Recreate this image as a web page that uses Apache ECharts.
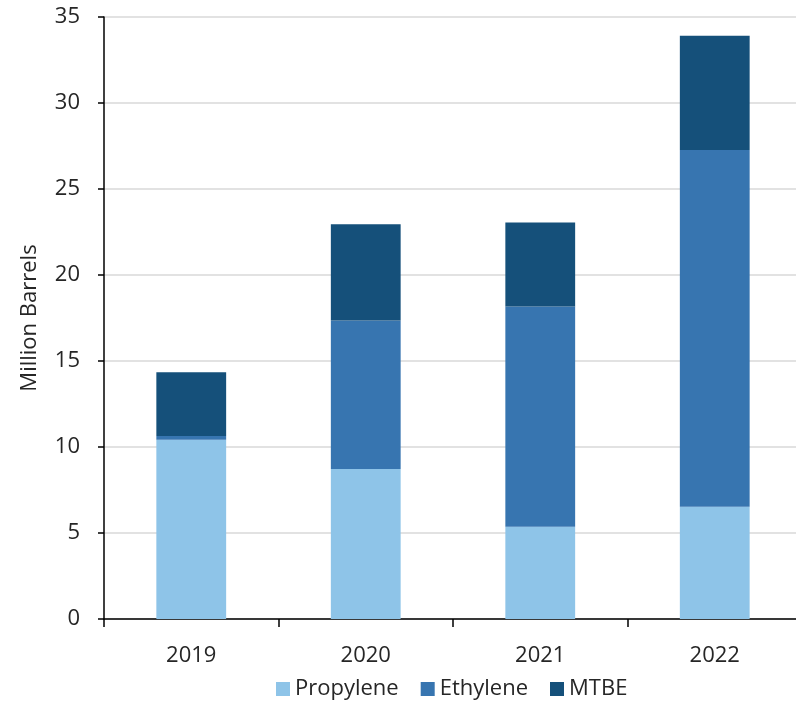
<!DOCTYPE html>
<html>
<head>
<meta charset="utf-8">
<script src="https://cdn.jsdelivr.net/npm/echarts@6/dist/echarts.min.js"></script>
<style>
  html, body { margin: 0; padding: 0; background: #ffffff; }
  #chart { width: 796px; height: 702px; }
</style>
</head>
<body>
<div id="chart"></div>
<script>
// Annual volumes, million barrels
const years = ['2019', '2020', '2021', '2022'];
const propylene = [10.42, 8.72, 5.37, 6.52];
const ethylene = [0.22, 8.64, 12.80, 20.75];
const mtbe = [3.70, 5.59, 4.88, 6.64];
const yTicks = [0, 5, 10, 15, 20, 25, 30, 35];

const FONT = '"Open Sans", "Noto Sans", sans-serif';
const TEXT = '#262626';

const chart = echarts.init(document.getElementById('chart'), null, { renderer: 'canvas' });

function stackSeries(name, data, color) {
  return {
    name: name,
    type: 'bar',
    stack: 'total',
    barWidth: '40%',
    data: data,
    itemStyle: { color: color },
    emphasis: { disabled: true }
  };
}

chart.setOption({
  animation: false,
  backgroundColor: '#ffffff',
  // plot area runs a little past the right edge of the canvas
  grid: { left: 104, top: 17, bottom: 83, width: 698, containLabel: false, outerBoundsMode: 'none' },
  legend: {
    left: 271,
    bottom: -3,
    itemWidth: 14,
    itemHeight: 14,
    itemGap: 22,
    icon: 'rect',
    textStyle: { fontFamily: FONT, fontSize: 22, color: TEXT },
    data: ['Propylene', 'Ethylene', 'MTBE']
  },
  xAxis: {
    type: 'category',
    data: years,
    axisLine: { lineStyle: { color: '#000000', width: 1.5 } },
    axisTick: { show: true, length: 8, alignWithLabel: false, lineStyle: { color: '#000000', width: 1.5 } },
    axisLabel: { fontFamily: FONT, fontSize: 22, color: TEXT, margin: 26 }
  },
  yAxis: {
    type: 'value',
    min: yTicks[0],
    max: yTicks[yTicks.length - 1],
    interval: 5,
    name: 'Million Barrels',
    nameLocation: 'middle',
    nameGap: 63,
    nameRotate: 90,
    nameTextStyle: { fontFamily: FONT, fontSize: 22, color: TEXT },
    axisLine: { show: true, lineStyle: { color: '#000000', width: 1.5 } },
    axisTick: { show: true, length: 6, lineStyle: { color: '#000000', width: 1.5 } },
    axisLabel: { fontFamily: FONT, fontSize: 22, color: TEXT, margin: 24 },
    splitLine: { show: true, lineStyle: { color: '#d9d9d9', width: 1.5 } }
  },
  series: [
    stackSeries('Propylene', propylene, '#8ec4e8'),
    stackSeries('Ethylene', ethylene, '#3775b0'),
    stackSeries('MTBE', mtbe, '#15507a')
  ]
});
</script>
</body>
</html>
